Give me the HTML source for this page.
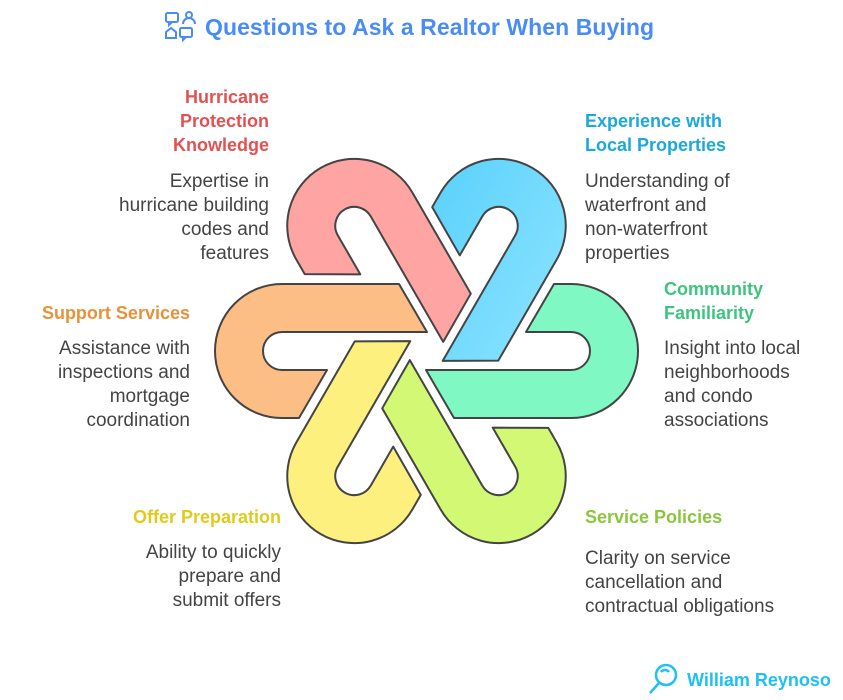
<!DOCTYPE html>
<html><head><meta charset="utf-8"><style>
body{margin:0;width:843px;height:700px;background:#fff;position:relative;overflow:hidden;font-family:"Liberation Sans",sans-serif}
.t{position:absolute;font-size:18px;line-height:24px;white-space:nowrap}
.h{font-weight:bold}
.r{text-align:right}
.b{color:#444;font-size:19px}
</style></head><body>
<svg width="843" height="700" style="position:absolute;left:0;top:0">
<defs>
<path id="hk" d="M427 332 L282 332 A19 19 0 0 0 282 370 L327 370 L299 418 L282 418 A67 67 0 0 1 282 284 L399 284 Z" stroke="#444" stroke-width="2" stroke-linejoin="round"/>
<linearGradient id="bg" x1="0" y1="0" x2="0" y2="1"><stop offset="0" stop-color="#80dfff"/><stop offset="1" stop-color="#5fd3fb"/></linearGradient>
</defs>
<use href="#hk" fill="#fdbe85"/>
<use href="#hk" fill="#fea5a3" transform="rotate(60 426.5 351)"/>
<use href="#hk" fill="url(#bg)" transform="rotate(120 426.5 351)"/>
<use href="#hk" fill="#80f8c4" transform="rotate(180 426.5 351)"/>
<use href="#hk" fill="#d2f874" transform="rotate(240 426.5 351)"/>
<use href="#hk" fill="#fdf07e" transform="rotate(300 426.5 351)"/>
<g fill="none" stroke="#4a8cf7" stroke-width="2">
<rect x="166" y="13" width="12" height="9" rx="1.5"/><path d="M169 22 l0 3 l3 -3"/>
<circle cx="189" cy="15" r="3"/><path d="M183 24 a6 6 0 0 1 12 0"/>
<path d="M166 38 l0 -6 l5 -4 l5 4 l0 6 z"/>
<rect x="180" y="28" width="12" height="9" rx="1.5"/><path d="M183 37 l0 3 l3 -3"/>
</g>
<text x="205" y="35" font-size="23" font-weight="bold" fill="#4a8cf7" font-family="Liberation Sans, sans-serif" textLength="449">Questions to Ask a Realtor When Buying</text>
<g fill="none" stroke="#1ec0f5" stroke-width="2.5">
<circle cx="666" cy="675" r="10"/><path d="M659 683 L650 693"/><path d="M661 672 a5 5 0 0 1 8 0"/>
</g>
<text x="687" y="686" font-size="18" font-weight="bold" fill="#1ec0f5" font-family="Liberation Sans, sans-serif">William Reynoso</text>
</svg>

<div class="t h r" style="right:574px;top:85px;color:#e35151">Hurricane<br>Protection<br>Knowledge</div>
<div class="t b r" style="right:574px;top:170px">Expertise in<br>hurricane building<br>codes and<br>features</div>

<div class="t h" style="left:585px;top:109px;color:#1ba8dc">Experience with<br>Local Properties</div>
<div class="t b" style="left:585px;top:170px">Understanding of<br>waterfront and<br>non-waterfront<br>properties</div>

<div class="t h" style="left:664px;top:277px;color:#3fc47f">Community<br>Familiarity</div>
<div class="t b" style="left:664px;top:337px">Insight into local<br>neighborhoods<br>and condo<br>associations</div>

<div class="t h r" style="right:653px;top:301px;color:#e8913a">Support Services</div>
<div class="t b r" style="right:653px;top:337px">Assistance with<br>inspections and<br>mortgage<br>coordination</div>

<div class="t h r" style="right:562px;top:505px;color:#e0cb1c">Offer Preparation</div>
<div class="t b r" style="right:562px;top:541px">Ability to quickly<br>prepare and<br>submit offers</div>

<div class="t h" style="left:585px;top:505px;color:#8cc63f">Service Policies</div>
<div class="t b" style="left:585px;top:547px">Clarity on service<br>cancellation and<br>contractual obligations</div>
</body></html>
